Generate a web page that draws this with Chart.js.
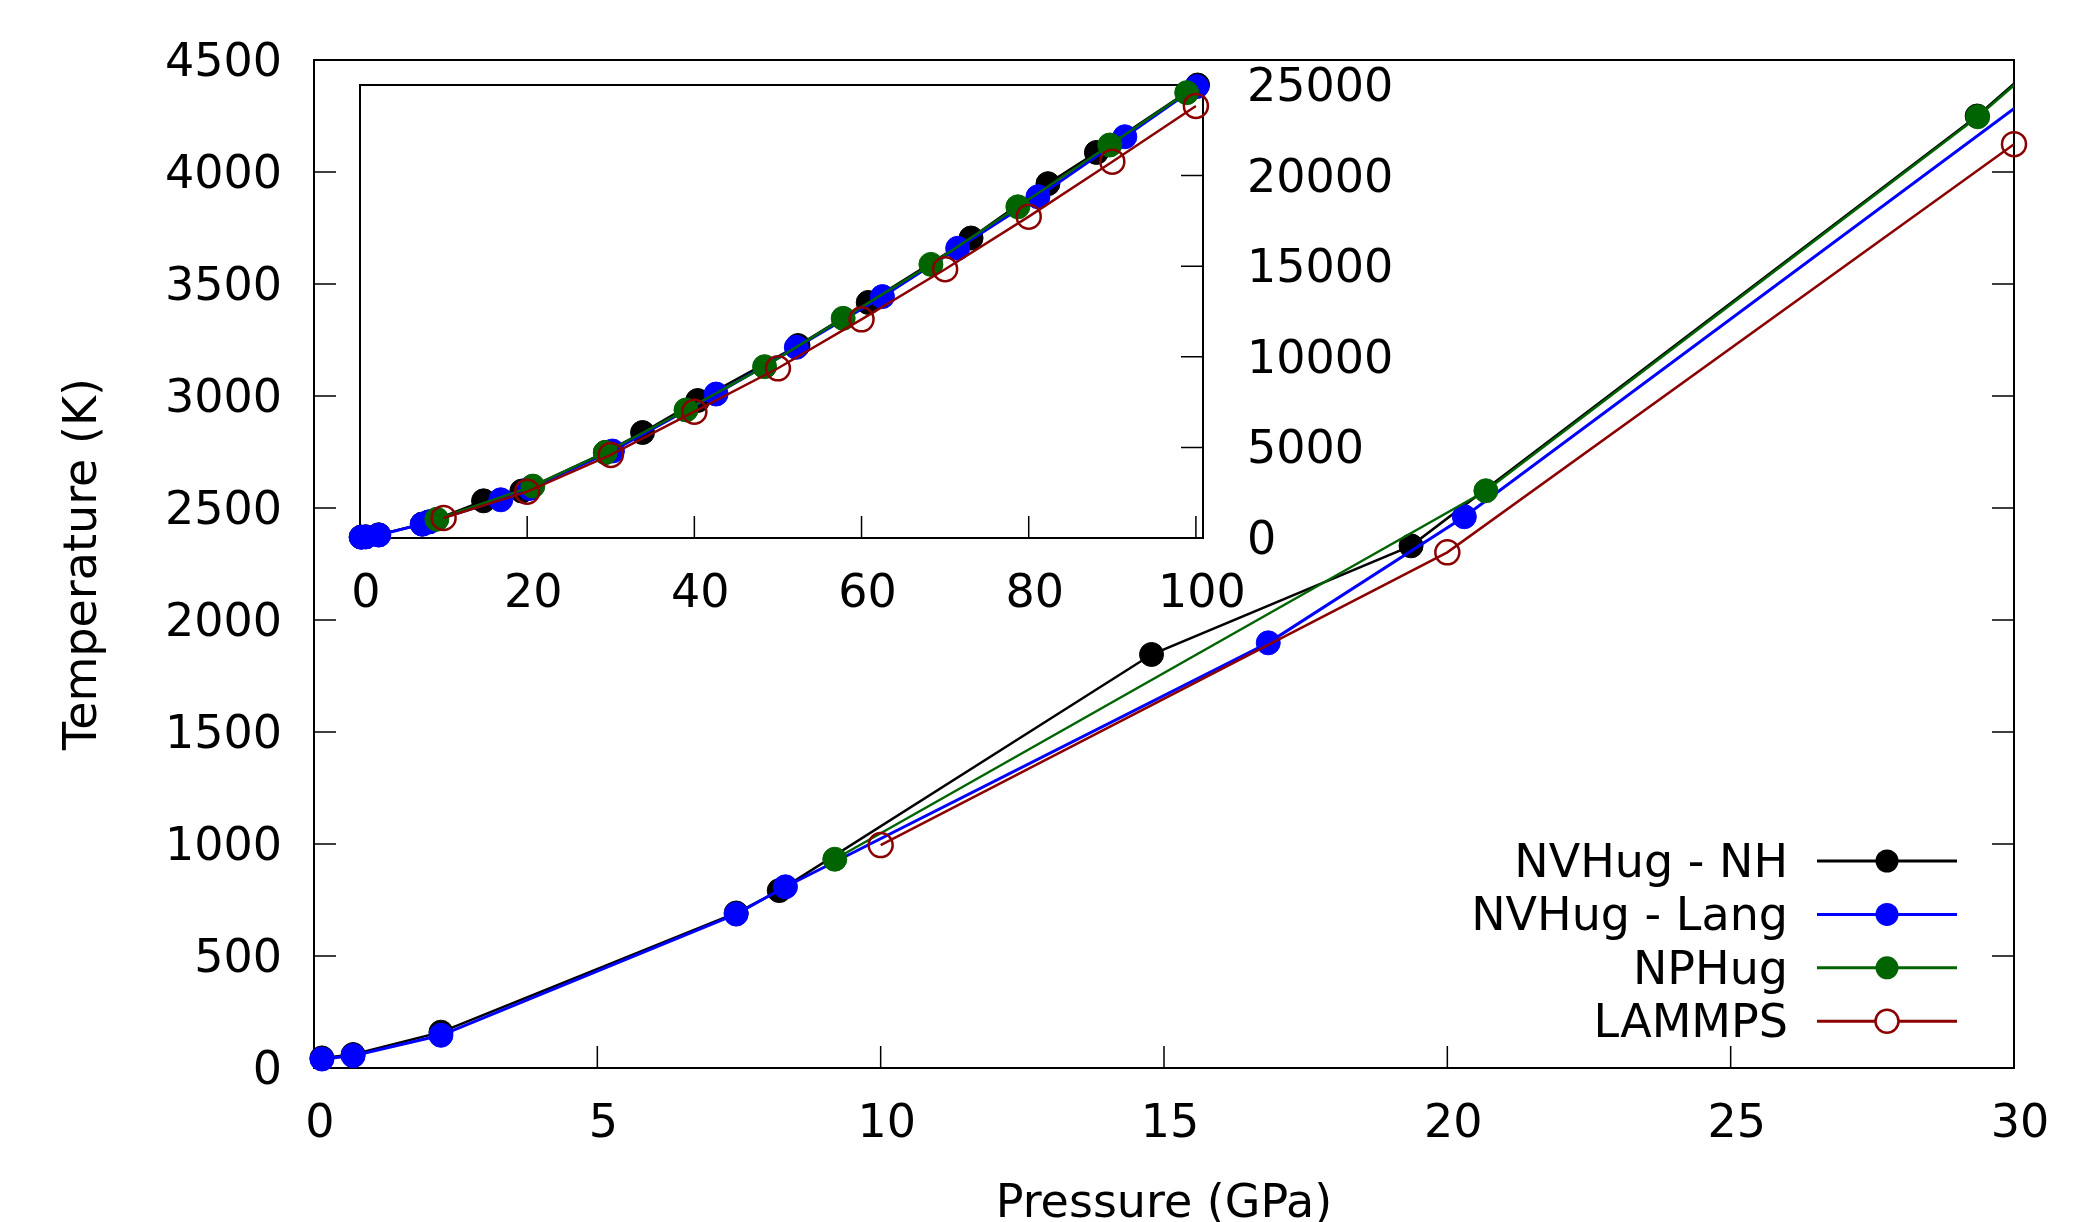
<!DOCTYPE html>
<html>
<head>
<meta charset="utf-8">
<script src="https://cdn.jsdelivr.net/npm/chart.js@4.4.1/dist/chart.umd.min.js"></script>
<style>
  html, body { margin: 0; background: #fff; }
  #wrap { position: relative; width: 2084px; height: 1222px; overflow: hidden; }
  #wrap canvas { position: absolute; left: 0; top: 0; }
</style>
</head>
<body>
<div id="wrap">
  <canvas id="mainChart" width="2084" height="1222"></canvas>
  <canvas id="insetChart" width="2084" height="1222"></canvas>
</div>
<script>
// pressure (GPa) / temperature (K) along the Hugoniot, one pair of arrays per method
const NH_P   = [0.14, 0.69, 2.24, 7.45, 8.21, 14.78, 19.36, 29.35, 33.8, 40.4, 52.4, 60.8, 73.1, 82.3, 88.1, 100.2];
const NH_T   = [45, 60, 160, 692, 792, 1846, 2331, 4250, 5240, 6830, 9560, 11700, 14900, 17600, 19150, 22500];
const LANG_P = [0.14, 0.69, 2.24, 7.45, 8.32, 16.84, 20.3, 30.2, 42.6, 52.2, 62.5, 71.5, 81.1, 91.5, 100.1];
const LANG_T = [40, 55, 146, 687, 809, 1898, 2461, 4320, 7150, 9470, 11990, 14390, 16950, 19930, 22420];
const NPH_P  = [9.19, 20.68, 29.36, 39.0, 48.4, 57.8, 68.3, 78.7, 89.7, 98.9];
const NPH_T  = [932, 2577, 4247, 6360, 8510, 10910, 13590, 16450, 19520, 22120];
const LMP_P  = [10, 20, 30, 40, 50, 60, 70, 80, 90, 100];
const LMP_T  = [995, 2302, 4124, 6273, 8430, 10860, 13350, 15960, 18690, 21460];

const MAIN_X_TICKS  = [0, 5, 10, 15, 20, 25, 30];
const MAIN_Y_TICKS  = [0, 500, 1000, 1500, 2000, 2500, 3000, 3500, 4000, 4500];
const INSET_X_TICKS = [0, 20, 40, 60, 80, 100];
const INSET_Y_TICKS = [0, 5000, 10000, 15000, 20000, 25000];
// the inset data sit on an autoscaled axis (0..22500) while its labelled axis reads 0..25000
const INSET_T_MAX = 22500;

const SERIES = [
  { label: 'NVHug - NH',   color: '#000000', p: NH_P,   t: NH_T,   open: false, width: 2.5 },
  { label: 'NVHug - Lang', color: '#0000ff', p: LANG_P, t: LANG_T, open: false, width: 3 },
  { label: 'NPHug',        color: '#006400', p: NPH_P,  t: NPH_T,  open: false, width: 2.5 },
  { label: 'LAMMPS',       color: '#8b0000', p: LMP_P,  t: LMP_T,  open: true,  width: 2.5 },
];

const FS = 46;
Chart.defaults.font.family = 'DejaVu Sans';
Chart.defaults.font.size = FS;
Chart.defaults.color = '#000';

const toPts = (s, maxP) => s.p.map((p, i) => ({ x: p, y: s.t[i] }))
  .filter(d => maxP === undefined || d.x <= maxP);
const fixTicks = list => s => { s.ticks = list.map(v => ({ value: v })); };
const plain = v => String(v);
const R = 12;

// frame round the plot area plus inward tick marks
function frame(sides, len) {
  return {
    id: 'frame',
    beforeDatasetsDraw(chart) {
      const { ctx, chartArea: a, scales } = chart;
      ctx.save();
      ctx.strokeStyle = '#000';
      ctx.lineWidth = 1.5;
      ctx.beginPath();
      for (const [side, id] of sides) {
        const s = scales[id];
        for (const t of s.ticks) {
          const v = s.getPixelForValue(t.value);
          if (side === 'left')   { ctx.moveTo(a.left, v);   ctx.lineTo(a.left + len, v); }
          if (side === 'right')  { ctx.moveTo(a.right, v);  ctx.lineTo(a.right - len, v); }
          if (side === 'bottom') { ctx.moveTo(v, a.bottom); ctx.lineTo(v, a.bottom - len); }
        }
      }
      ctx.stroke();
      ctx.lineWidth = 2;
      ctx.strokeRect(a.left, a.top, a.right - a.left, a.bottom - a.top);
      ctx.restore();
    }
  };
}

// gnuplot style key: right aligned text, line sample with marker
const keyBox = {
  id: 'keyBox',
  afterDraw(chart) {
    const ctx = chart.ctx;
    ctx.save();
    ctx.font = FS + 'px "DejaVu Sans"';
    ctx.textAlign = 'right';
    ctx.textBaseline = 'alphabetic';
    SERIES.forEach((s, i) => {
      const y = 861 + i * 53.4;
      ctx.fillStyle = '#000';
      ctx.fillText(s.label, 1788, y + 16);
      ctx.strokeStyle = s.color;
      ctx.lineWidth = 3;
      ctx.beginPath(); ctx.moveTo(1817, y); ctx.lineTo(1957, y); ctx.stroke();
      ctx.beginPath(); ctx.arc(1887, y, R - 0.5, 0, Math.PI * 2);
      if (s.open) { ctx.fillStyle = '#fff'; ctx.fill(); ctx.lineWidth = 2.5; ctx.stroke(); }
      else { ctx.fillStyle = s.color; ctx.fill(); }
    });
    ctx.restore();
  }
};

const pointStyle = s => ({
  pointRadius: R,
  pointBorderWidth: s.open ? 2.5 : 1,
  pointBorderColor: s.color,
  pointBackgroundColor: s.open ? 'rgba(0,0,0,0)' : s.color,
});

// main plot: lines clipped at the frame, markers only inside the x range
const mainSets = [];
SERIES.forEach((s, i) => {
  mainSets.push({ label: s.label, data: toPts(s), showLine: true, borderColor: s.color,
    borderWidth: s.width, pointRadius: 0, clip: 0, order: -2 * i });
  mainSets.push(Object.assign({ label: s.label + ' pts', data: toPts(s, 30), showLine: false,
    clip: false, order: -2 * i - 1 }, pointStyle(s)));
});

const noGrid = { display: false, drawTicks: false };

new Chart(document.getElementById('mainChart'), {
  type: 'scatter',
  data: { datasets: mainSets },
  options: {
    responsive: false, animation: false, devicePixelRatio: 1, events: [],
    layout: { padding: { left: 0, top: 60, right: 70, bottom: 0 } },
    plugins: { legend: { display: false }, tooltip: { enabled: false } },
    scales: {
      x: {
        type: 'linear', position: 'bottom', min: 0, max: 30,
        afterBuildTicks: fixTicks(MAIN_X_TICKS),
        afterFit: s => { s.height = 154; },
        grid: noGrid, border: { display: false },
        ticks: { padding: 29, labelOffset: 6, maxRotation: 0, autoSkip: false, callback: plain },
        title: { display: true, text: 'Pressure (GPa)', padding: { top: 0, bottom: -6 },
                 font: { size: FS, lineHeight: 1 } }
      },
      y: {
        type: 'linear', position: 'left', min: 0, max: 4500,
        afterBuildTicks: fixTicks(MAIN_Y_TICKS),
        afterFit: s => { s.width = 314; },
        grid: noGrid, border: { display: false },
        ticks: { padding: 32, labelOffset: 4, autoSkip: false, callback: plain },
        title: { display: true, text: 'Temperature (K)', padding: { top: 61, bottom: 0 },
                 font: { size: FS, lineHeight: 1 } }
      }
    }
  },
  plugins: [frame([['left', 'y'], ['right', 'y'], ['bottom', 'x']], 22), keyBox]
});

// inset: full pressure range
const insetSets = SERIES.map((s, i) => Object.assign({
  label: s.label, data: toPts(s), showLine: true, borderColor: s.color,
  borderWidth: s.width, clip: false, order: -i
}, pointStyle(s)));

new Chart(document.getElementById('insetChart'), {
  type: 'scatter',
  data: { datasets: insetSets },
  options: {
    responsive: false, animation: false, devicePixelRatio: 1, events: [],
    layout: { padding: { left: 360, top: 85, right: 0, bottom: 0 } },
    plugins: { legend: { display: false }, tooltip: { enabled: false } },
    scales: {
      x: {
        type: 'linear', position: 'bottom', min: 0, max: 100.85,
        afterBuildTicks: fixTicks(INSET_X_TICKS),
        afterFit: s => { s.height = 1222 - 538; },
        grid: noGrid, border: { display: false },
        ticks: { padding: 29, labelOffset: 6, maxRotation: 0, autoSkip: false, callback: plain }
      },
      y: { type: 'linear', position: 'left', min: 0, max: INSET_T_MAX, display: false },
      y2: {
        type: 'linear', position: 'right', min: 0, max: 25000,
        afterBuildTicks: fixTicks(INSET_Y_TICKS),
        afterFit: s => { s.width = 2084 - 1203; },
        grid: noGrid, border: { display: false },
        ticks: { padding: 44, labelOffset: 4, autoSkip: false, callback: plain }
      }
    }
  },
  plugins: [frame([['right', 'y2'], ['bottom', 'x']], 22)]
});
</script>
</body>
</html>
